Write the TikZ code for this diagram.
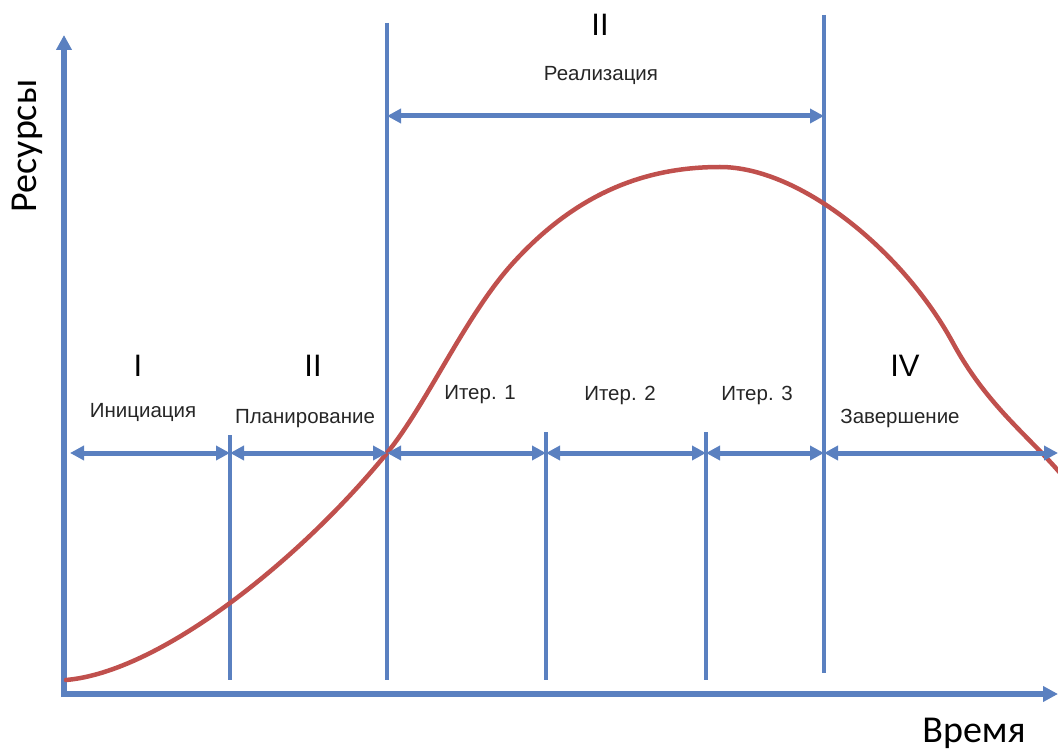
\documentclass[tikz,border=0pt]{standalone}
\usepackage{fontspec}
\setmainfont{Liberation Sans}
\newfontfamily\axisfont{Carlito}
\usetikzlibrary{arrows.meta}
\definecolor{lineblue}{HTML}{5A80C0}
\definecolor{curvered}{HTML}{C0504D}

\begin{document}
\begin{tikzpicture}[
		x=1pt, y=-1pt,
		axis/.style={draw=lineblue, line width=5.5pt, -{Triangle[length=15pt,width=15pt]}},
		sep/.style={draw=lineblue, line width=3.5pt},
		span/.style={draw=lineblue, line width=5pt, {Triangle[length=14pt,width=14pt]}-{Triangle[length=14pt,width=14pt]}},
		phase/.style={font=\fontsize{31}{31}\selectfont, inner sep=0pt},
		lbl/.style={font=\fontsize{20.5}{22}\selectfont, text=black!85, inner sep=0pt}
		]
		\useasboundingbox (0,0) rectangle (1058,751);

		% axes
		\coordinate (origin) at (64,697);
		\coordinate (ytop) at (64,35);
		\coordinate (xorig) at (64,694);
		\coordinate (xend) at (1058,694);
		\draw[axis] (origin) -- (ytop);
		\draw[axis] (xorig) -- (xend);
		\node[font=\axisfont\fontsize{38}{38}\selectfont, rotate=90] (res) at (27,146) {Ресурсы};
		\node[font=\axisfont\fontsize{38}{38}\selectfont] (time) at (974,733) {Время};

		% phase borders
		\coordinate (b1t) at (230,435); \coordinate (b1b) at (230,680);
		\coordinate (b2t) at (387,23);  \coordinate (b2b) at (387,680);
		\coordinate (b3t) at (546,432); \coordinate (b3b) at (546,680);
		\coordinate (b4t) at (706,432); \coordinate (b4b) at (706,680);
		\coordinate (b5t) at (824,15);  \coordinate (b5b) at (824,673);
		\draw[sep] (b1t) -- (b1b);
		\draw[sep] (b2t) -- (b2b);
		\draw[sep] (b3t) -- (b3b);
		\draw[sep] (b4t) -- (b4b);
		\draw[sep] (b5t) -- (b5b);

		% resource curve
		\draw[curvered, line width=4.5pt, line cap=round]
			(66,680) .. controls (160,672) and (300,560) .. (387,453)
			.. controls (427,404) and (465,316) .. (513,263)
			.. controls (573,197) and (640,167) .. (720,167)
			.. controls (800,167) and (903,251) .. (953,343)
			.. controls (990,411) and (1035,440) .. (1070,485);

		% spans
		\coordinate (p0) at (70,453);
		\coordinate (p1) at (230,453);
		\coordinate (p2) at (387,453);
		\coordinate (p3) at (546,453);
		\coordinate (p4) at (706,453);
		\coordinate (p5) at (824,453);
		\coordinate (p6) at (1058,453);
		\draw[span] (p0) -- (p1);
		\draw[span] (p1) -- (p2);
		\draw[span] (p2) -- (p3);
		\draw[span] (p3) -- (p4);
		\draw[span] (p4) -- (p5);
		\draw[span] (p5) -- (p6);
		\coordinate (r0) at (387,116);
		\coordinate (r1) at (824,116);
		\draw[span] (r0) -- (r1);

		% labels
		\node[phase] (ph1) at (138,366) {I};
		\node[lbl] (l1) at (143,412) {Инициация};
		\node[phase] (ph2) at (313,366) {II};
		\node[lbl] (l2) at (305,419) {Планирование};
		\node[lbl] (it1) at (480,395) {Итер. 1};
		\node[lbl] (it2) at (620,395) {Итер. 2};
		\node[lbl] (it3) at (757,395) {Итер. 3};
		\node[phase] (ph4) at (905,366) {IV};
		\node[lbl] (l4) at (900,418) {Завершение};
		\node[phase] (ph3) at (600,25) {II};
		\node[lbl] (l3) at (601,75) {Реализация};
	\end{tikzpicture}
\end{document}
